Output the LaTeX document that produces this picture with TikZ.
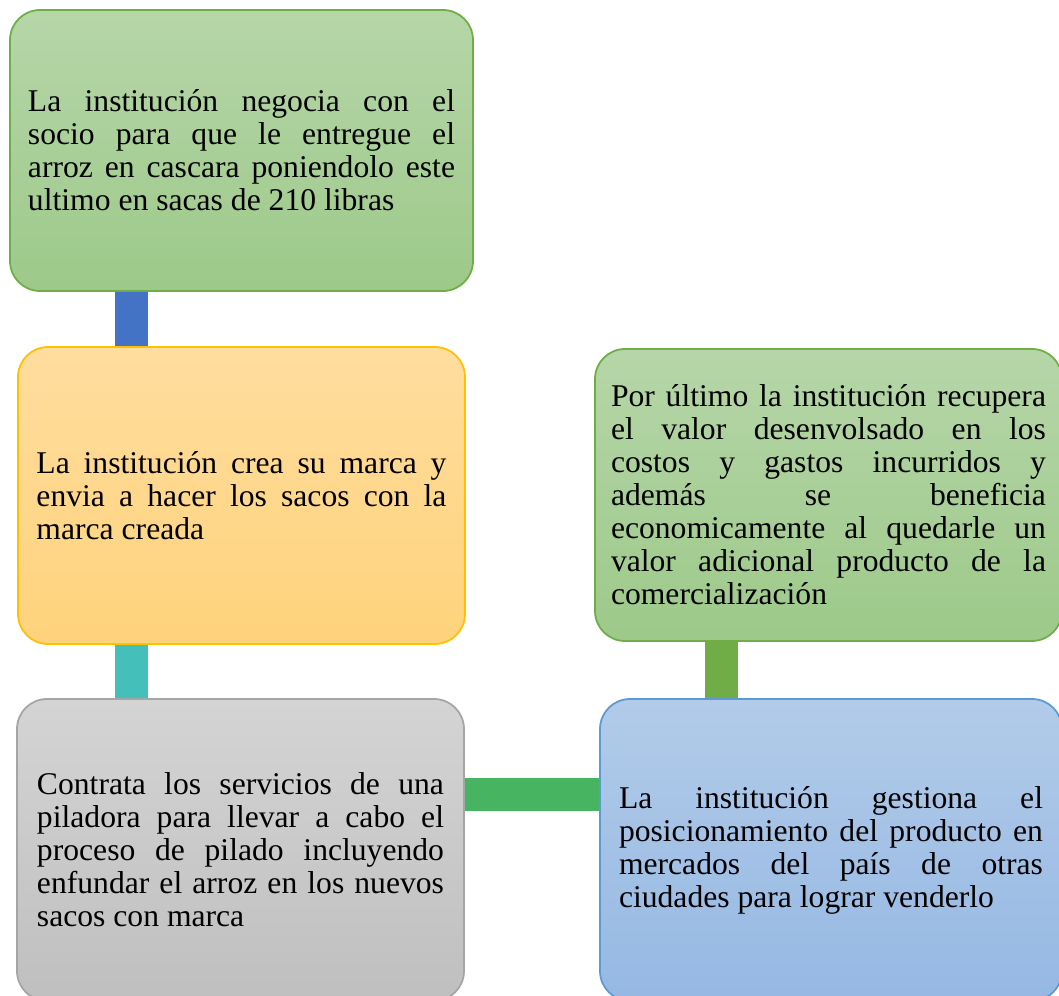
\documentclass[tikz,border=0pt]{standalone}
\usepackage{fontspec}
\setmainfont{Liberation Serif}
\usepackage{xcolor}
\usetikzlibrary{calc, positioning}

\definecolor{verdeTop}{HTML}{B6D6A8}
\definecolor{verdeBot}{HTML}{9DC98A}
\definecolor{verdeBorde}{HTML}{70AD47}
\definecolor{naranjaTop}{HTML}{FFDD9E}
\definecolor{naranjaBot}{HTML}{FFD37C}
\definecolor{naranjaBorde}{HTML}{FFC000}
\definecolor{grisTop}{HTML}{D4D4D4}
\definecolor{grisBot}{HTML}{BFBFBF}
\definecolor{grisBorde}{HTML}{A5A5A5}
\definecolor{azulTop}{HTML}{B2CBE9}
\definecolor{azulBot}{HTML}{95B8E3}
\definecolor{azulBorde}{HTML}{5B9BD5}
\definecolor{lineaAzul}{HTML}{4472C4}
\definecolor{lineaTurquesa}{HTML}{44BFBA}
\definecolor{lineaVerde}{HTML}{47B462}

\tikzset{
    caja/.style={rounded corners=0.3cm, line width=0.5pt, inner sep=0pt,
        align=justify, anchor=center,
        font=\fontsize{9}{9.4}\selectfont},
    cajaVerde/.style={caja, draw=verdeBorde, top color=verdeTop, bottom color=verdeBot},
    cajaNaranja/.style={caja, draw=naranjaBorde, top color=naranjaTop, bottom color=naranjaBot},
    cajaGris/.style={caja, draw=grisBorde, top color=grisTop, bottom color=grisBot},
    cajaAzul/.style={caja, draw=azulBorde, top color=azulTop, bottom color=azulBot},
    enlace/.style={line width=0.33cm, line cap=butt}
}

\begin{document}
\begin{tikzpicture}

    % =================================================================
    % 1. MARCO DEL DIBUJO
    % =================================================================
    \useasboundingbox (0,0) rectangle (10.59,-9.96);

    % =================================================================
    % 2. CAJAS DEL PROCESO
    % =================================================================
    % Negociación con el socio
    \node[cajaVerde, minimum width=4.63cm, minimum height=2.81cm, text width=4.27cm]
        (negocia) at (2.415,-1.505)
        {La institución negocia con el\linebreak socio para que le entregue el\linebreak arroz en cascara poniendolo este\linebreak ultimo en sacas de 210 libras};

    % Creación de la marca
    \node[cajaNaranja, minimum width=4.47cm, minimum height=2.97cm, text width=4.10cm]
        (marca) at (2.415,-4.955)
        {La institución crea su marca y\linebreak envia a hacer los sacos con la\linebreak marca creada};

    % Proceso de pilado
    \node[cajaGris, minimum width=4.47cm, minimum height=3.02cm, text width=4.07cm]
        (pilado) at (2.405,-8.50)
        {Contrata los servicios de una\linebreak piladora para llevar a cabo el\linebreak proceso de pilado incluyendo\linebreak enfundar el arroz en los nuevos\linebreak sacos con marca};

    % Posicionamiento en mercados
    \node[cajaAzul, minimum width=4.62cm, minimum height=3.02cm, text width=4.24cm]
        (mercado) at (8.31,-8.50)
        {La institución gestiona el\linebreak posicionamiento del producto en\linebreak mercados del país de otras\linebreak ciudades para lograr venderlo};

    % Recuperación del valor
    \node[cajaVerde, minimum width=4.67cm, minimum height=2.92cm, text width=4.35cm]
        (recupera) at (8.285,-4.95)
        {Por último la institución recupera\linebreak el valor desenvolsado en los\linebreak costos y gastos incurridos y\linebreak además se beneficia\linebreak economicamente al quedarle un\linebreak valor adicional producto de la\linebreak comercialización};

    % =================================================================
    % 3. BARRAS DE UNIÓN ENTRE CAJAS
    % =================================================================
    \draw[enlace, lineaAzul] ([xshift=-1.10cm]negocia.south) -- ([xshift=-1.10cm]negocia.south |- marca.north);
    \draw[enlace, lineaTurquesa] ([xshift=-1.10cm]marca.south) -- ([xshift=-1.10cm]marca.south |- pilado.north);
    \draw[enlace, lineaVerde] ([yshift=0.56cm]pilado.east) -- ([yshift=0.56cm]pilado.east -| mercado.west);
    \draw[enlace, verdeBorde] ([xshift=-1.07cm]recupera.south) -- ([xshift=-1.07cm]recupera.south |- mercado.north);

\end{tikzpicture}
\end{document}
